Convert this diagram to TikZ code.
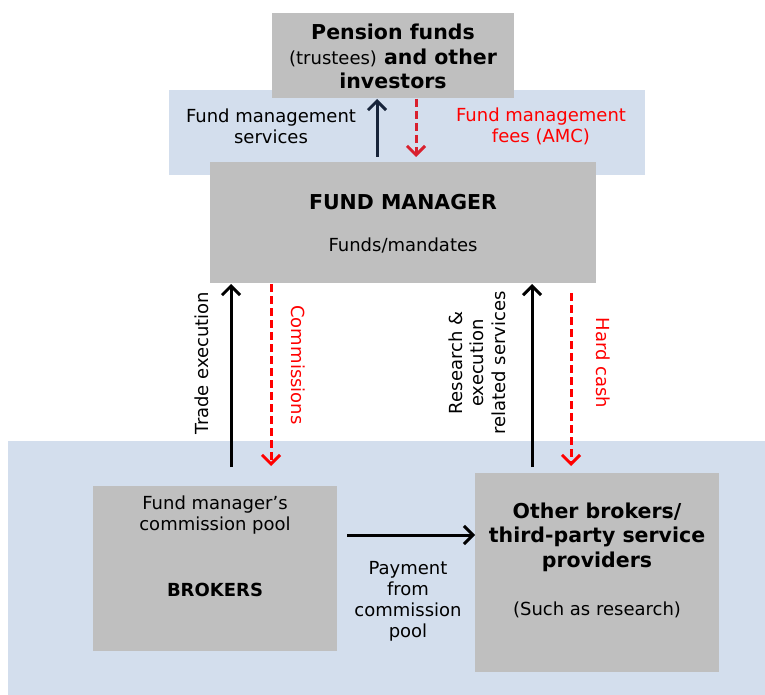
\documentclass[tikz,border=0pt]{standalone}
\usepackage{fontspec}
\setmainfont{DejaVu Sans}
\usetikzlibrary{arrows.meta}
\definecolor{boxgray}{HTML}{BFBFBF}
\definecolor{bandblue}{HTML}{D3DEED}
\definecolor{navy}{HTML}{17243A}
\definecolor{redline}{HTML}{FF0000}
\definecolor{redtop}{HTML}{D9202E}
\tikzset{
  band/.style={fill=bandblue, draw=none},
  box/.style={fill=boxgray, draw=none, inner sep=0pt},
  txt/.style={align=center, inner sep=0pt, font=\fontsize{18}{21}\selectfont},
  btxt/.style={align=center, inner sep=0pt, font=\fontsize{20.5}{24.5}\selectfont\bfseries},
  solidarr/.style={line width=3pt, -{Straight Barb[length=9pt,width=18pt]}},
  dasharr/.style={line width=3pt, dash pattern=on 8pt off 4pt, -{Straight Barb[length=9pt,width=18pt]}},
}
\begin{document}
\begin{tikzpicture}[x=1pt,y=-1pt]
\useasboundingbox (0,0) rectangle (765,695);
% bands
\fill[band] (169,90) rectangle (645,175);
\fill[band] (8,441) rectangle (765,695);
% boxes
\node[box, minimum width=242pt, minimum height=85pt] (pf) at (393,55.5) {};
\node[box, minimum width=386pt, minimum height=121pt] (fm) at (403,222.5) {};
\node[box, minimum width=244pt, minimum height=165pt] (br) at (215,568.5) {};
\node[box, minimum width=244pt, minimum height=199pt] (ob) at (597,572.5) {};
% texts
\node[btxt] (pftxt) at (393,56.5) {Pension funds\\{\fontsize{18}{24.5}\selectfont\mdseries (trustees)} and other\\investors};
\node[txt] (fms) at (271,126) {Fund management\\services};
\node[txt, text=redline] (fmf) at (541,126) {Fund management\\fees (AMC)};
\node[btxt] (fmt) at (403,202) {FUND MANAGER};
\node[txt] (fmd) at (403,245) {Funds/mandates};
\node[txt, rotate=90] (te) at (202,363) {Trade execution};
\node[txt, rotate=-90, text=redline] (com) at (298,365) {Commissions};
\node[txt, rotate=90, font=\fontsize{18}{21.5}\selectfont] (res) at (477,363) {Research \&\\execution\\related services};
\node[txt, rotate=-90, text=redline] (hc) at (603,363) {Hard cash};
\node[txt] (pool) at (215,515.5) {Fund manager’s\\commission pool};
\node[txt, font=\fontsize{18}{21}\selectfont\bfseries] (brk) at (215,590) {BROKERS};
\node[btxt] (obt) at (597,537) {Other brokers/\\third-party service\\providers};
\node[txt] (sar) at (597,610) {(Such as research)};
\node[txt] (pay) at (408,601.5) {Payment\\from\\commission\\pool};
% arrow end points
\coordinate (a1s) at (377,157); \coordinate (a1e) at (377,99);
\coordinate (a2s) at (416,99);  \coordinate (a2e) at (416,157);
\coordinate (a3s) at (231,467); \coordinate (a3e) at (231,284);
\coordinate (a4s) at (271,284); \coordinate (a4e) at (271,466);
\coordinate (a5s) at (532,467); \coordinate (a5e) at (532,284);
\coordinate (a6s) at (571,293); \coordinate (a6e) at (571,466);
\coordinate (a7s) at (347,535); \coordinate (a7e) at (475,535);
% arrows
\draw[solidarr, navy] (a1s) -- (a1e);
\draw[dasharr, redtop] (a2s) -- (a2e);
\draw[solidarr, black] (a3s) -- (a3e);
\draw[dasharr, redline] (a4s) -- (a4e);
\draw[solidarr, black] (a5s) -- (a5e);
\draw[dasharr, redline] (a6s) -- (a6e);
\draw[solidarr, black] (a7s) -- (a7e);
\end{tikzpicture}
\end{document}
